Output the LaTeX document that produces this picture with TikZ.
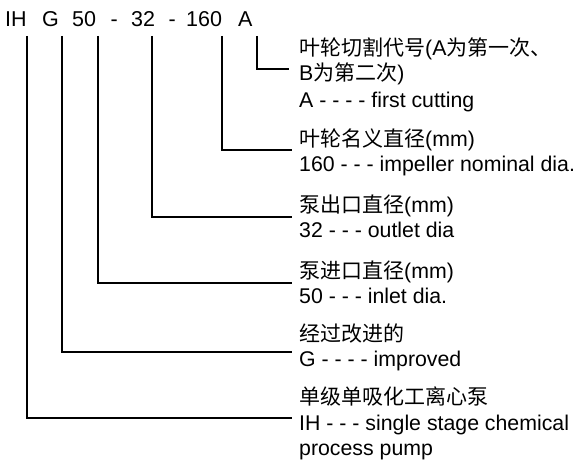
\documentclass[tikz,border=0pt]{standalone}
\usepackage{fontspec}
\setmainfont{Liberation Sans}
\newfontfamily\cjk{Noto Sans CJK SC}
\begin{document}
\begin{tikzpicture}[x=1pt,y=-1pt,
  lbl/.style={anchor=base west, inner sep=0pt, font=\fontsize{21.3}{24}\selectfont},
  hdr/.style={anchor=base west, inner sep=0pt, font=\fontsize{21.5}{24}\selectfont},
  conn/.style={line width=1.5pt}]
\useasboundingbox (0,0) rectangle (574,462);
% header
\node[hdr] (hIH) at (5,27) {IH};
\node[hdr] (hG) at (42,27) {G};
\node[hdr] (h50) at (72,27) {50};
\node[hdr] (d1) at (110.5,27) {-};
\node[hdr] (h32) at (131,27) {32};
\node[hdr] (d2) at (168.5,27) {-};
\node[hdr] (h160) at (186,27) {160};
\node[hdr] (hA) at (238,27) {A};
% connector tops
\coordinate (tIH) at (27,36);
\coordinate (tG) at (62,36);
\coordinate (t50) at (98,36);
\coordinate (t32) at (152,36);
\coordinate (t160) at (222,36);
\coordinate (tA) at (257,36);
% connector ends
\coordinate (eA) at (289,69);
\coordinate (e160) at (292,150);
\coordinate (e32) at (292,217);
\coordinate (e50) at (292,283);
\coordinate (eG) at (292,352);
\coordinate (eIH) at (292,418);
\draw[conn] (tA) |- (eA);
\draw[conn] (t160) |- (e160);
\draw[conn] (t32) |- (e32);
\draw[conn] (t50) |- (e50);
\draw[conn] (tG) |- (eG);
\draw[conn] (tIH) |- (eIH);
% labels
\node[lbl] (lA1) at (299,56) {{\cjk\fontsize{21}{24}\selectfont 叶轮切割代号}(A{\cjk\fontsize{21}{24}\selectfont 为第一次、}};
\node[lbl] (lA2) at (299,81) {B{\cjk\fontsize{21}{24}\selectfont 为第二次})};
\node[lbl] (lA3) at (299,108) {A - - - - first cutting};
\node[lbl] (l160a) at (299,147) {{\cjk\fontsize{21}{24}\selectfont 叶轮名义直径}(mm)};
\node[lbl] (l160b) at (299,172) {160 - - - impeller nominal dia.};
\node[lbl] (l32a) at (299,213) {{\cjk\fontsize{21}{24}\selectfont 泵出口直径}(mm)};
\node[lbl] (l32b) at (299,238) {32 - - - outlet dia};
\node[lbl] (l50a) at (299,279) {{\cjk\fontsize{21}{24}\selectfont 泵进口直径}(mm)};
\node[lbl] (l50b) at (299,304) {50 - - - inlet dia.};
\node[lbl] (lGa) at (299,342) {{\cjk\fontsize{21}{24}\selectfont 经过改进的}};
\node[lbl] (lGb) at (299,367) {G - - - - improved};
\node[lbl] (lIHa) at (299,405) {{\cjk\fontsize{21}{24}\selectfont 单级单吸化工离心泵}};
\node[lbl] (lIHb) at (299,431) {IH - - - single stage chemical};
\node[lbl] (lIHc) at (299,456) {process pump};
\end{tikzpicture}
\end{document}
